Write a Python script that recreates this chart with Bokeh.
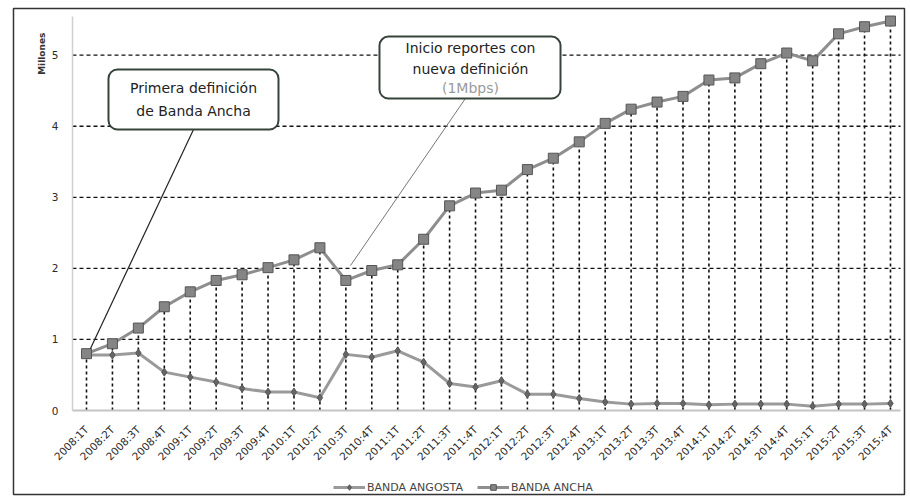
from math import pi

from bokeh.plotting import figure
from bokeh.models import (FixedTicker, Range1d, BoxAnnotation, Label, Legend,
                          LegendItem, ColumnDataSource)
from bokeh.embed import file_html
from bokeh.resources import INLINE

# Quarterly subscriptions (millions)
periodos = ["2008:1T", "2008:2T", "2008:3T", "2008:4T",
            "2009:1T", "2009:2T", "2009:3T", "2009:4T",
            "2010:1T", "2010:2T", "2010:3T", "2010:4T",
            "2011:1T", "2011:2T", "2011:3T", "2011:4T",
            "2012:1T", "2012:2T", "2012:3T", "2012:4T",
            "2013:1T", "2013:2T", "2013:3T", "2013:4T",
            "2014:1T", "2014:2T", "2014:3T", "2014:4T",
            "2015:1T", "2015:2T", "2015:3T", "2015:4T"]

banda_ancha = [0.80, 0.94, 1.16, 1.46, 1.67, 1.83, 1.91, 2.01,
               2.12, 2.29, 1.83, 1.97, 2.05, 2.41, 2.88, 3.06,
               3.10, 3.39, 3.55, 3.78, 4.04, 4.24, 4.34, 4.42,
               4.65, 4.68, 4.88, 5.03, 4.92, 5.30, 5.40, 5.48]

banda_angosta = [0.78, 0.78, 0.81, 0.54, 0.47, 0.40, 0.31, 0.26,
                 0.26, 0.18, 0.79, 0.75, 0.84, 0.68, 0.38, 0.33,
                 0.42, 0.23, 0.23, 0.17, 0.12, 0.09, 0.10, 0.10,
                 0.08, 0.09, 0.09, 0.09, 0.06, 0.09, 0.09, 0.10]

y_ticks = [0, 1, 2, 3, 4, 5]

n = len(periodos)
idx = list(range(n))
src = ColumnDataSource(dict(x=idx, ancha=banda_ancha, angosta=banda_angosta,
                            base=[0] * n))

TXT = "DejaVu Sans"

# plotting area of the chart (data units)
X_LO, X_HI = -0.54, n - 1 + 0.39
Y_TOP = 5.55

# the frame covers the whole canvas; axes are pinned at data positions
p = figure(width=910, height=500, output_backend="svg", toolbar_location=None,
           x_range=Range1d(-3.316, 31.772), y_range=Range1d(-1.266, 5.769),
           min_border=0)
p.outline_line_color = None
p.background_fill_color = "white"
p.border_fill_color = "white"
p.grid.grid_line_color = None

# category axis
p.xaxis.fixed_location = 0
p.xaxis.bounds = (X_LO, X_HI)
p.xaxis.ticker = FixedTicker(ticks=idx)
p.xaxis.major_label_overrides = {i: s for i, s in zip(idx, periodos)}
p.xaxis.major_label_orientation = pi / 4
p.xaxis.major_label_text_font = TXT
p.xaxis.major_label_text_font_size = "10.5px"
p.xaxis.major_label_text_color = "#2a2a2a"
p.xaxis.major_label_standoff = 11
p.xaxis.axis_line_color = "#c4c4c4"
p.xaxis.axis_line_width = 2
p.xaxis.major_tick_line_color = None
p.xaxis.minor_tick_line_color = None

# value axis
p.yaxis.fixed_location = X_LO
p.yaxis.bounds = (0, Y_TOP)
p.yaxis.ticker = FixedTicker(ticks=y_ticks)
p.yaxis.major_label_text_font = TXT
p.yaxis.major_label_text_font_size = "10.5px"
p.yaxis.major_label_text_color = "#2a2a2a"
p.yaxis.major_label_standoff = 8
p.yaxis.axis_line_color = "#cfcfcf"
p.yaxis.axis_line_width = 1.5
p.yaxis.major_tick_line_color = None
p.yaxis.minor_tick_line_color = None

# dashed horizontal gridlines at the value ticks
grid_y = [t for t in y_ticks if t > 0]
p.segment(x0=[X_LO] * len(grid_y), x1=[X_HI] * len(grid_y), y0=grid_y, y1=grid_y,
          line_color="#111111", line_dash="4 3", line_width=1.3)

# dashed drop lines from each broadband point to the axis
p.segment(x0="x", y0="base", x1="x", y1="ancha", source=src,
          line_color="#111111", line_dash="3 3", line_width=1.6)

# series
l1 = p.line("x", "angosta", source=src, line_color="#9a9a9a", line_width=3)
m1 = p.scatter("x", "angosta", source=src, marker="diamond", size=8,
               fill_color="#666666", line_color="#555555")
l2 = p.line("x", "ancha", source=src, line_color="#8e8e8e", line_width=3)
m2 = p.scatter("x", "ancha", source=src, marker="square", size=10,
               fill_color="#858585", line_color="#555555", line_width=1)

legend = Legend(items=[LegendItem(label="BANDA ANGOSTA", renderers=[l1, m1]),
                       LegendItem(label="BANDA ANCHA", renderers=[l2, m2])],
                orientation="horizontal", location=(333, 6),
                label_text_font=TXT, label_text_font_size="11px",
                label_text_color="#444444", glyph_width=32, glyph_height=14,
                label_standoff=2, spacing=14, padding=0, margin=0,
                border_line_color=None, background_fill_alpha=0)
p.add_layout(legend)

# unit label at the top of the value axis
p.add_layout(Label(x=-1.697, y=5.02, text="Millones", angle=pi / 2,
                   text_font=TXT, text_font_size="9px", text_font_style="bold",
                   text_color="#333333", text_align="center",
                   text_baseline="middle"))

# callouts
p.segment(x0=[4.126, 14.61], y0=[3.954, 4.39], x1=[0.15, 10.18], y1=[0.87, 2.04],
          line_color=["#222222", "#777777"], line_width=[1.2, 1])

box_style = dict(fill_color="white", fill_alpha=1, line_color="#36433a",
                 line_alpha=1, line_width=2, border_radius=9)
p.add_layout(BoxAnnotation(left=0.848, right=7.403, bottom=3.954, top=4.798, **box_style))
p.add_layout(BoxAnnotation(left=11.297, right=18.277, bottom=4.39, top=5.262, **box_style))

callout_lines = [("Primera definición", 4.126, 4.531, "#222222"),
                 ("de Banda Ancha", 4.126, 4.221, "#222222"),
                 ("Inicio reportes con", 14.806, 5.094, "#222222"),
                 ("nueva definición", 14.806, 4.812, "#222222"),
                 ("(1Mbps)", 14.806, 4.531, "#9a9a9a")]
for txt, x, y, c in callout_lines:
    p.add_layout(Label(x=x, y=y, text=txt, text_font=TXT, text_font_size="14px",
                       text_color=c, text_align="center", text_baseline="middle"))

# thin frame around the whole chart
p.add_layout(BoxAnnotation(left=-2.815, right=31.54, bottom=-1.182, top=5.656,
                           fill_alpha=0, line_color="#333333", line_alpha=1,
                           line_width=1.5))

open("out.html", "w").write(file_html(p, INLINE))
